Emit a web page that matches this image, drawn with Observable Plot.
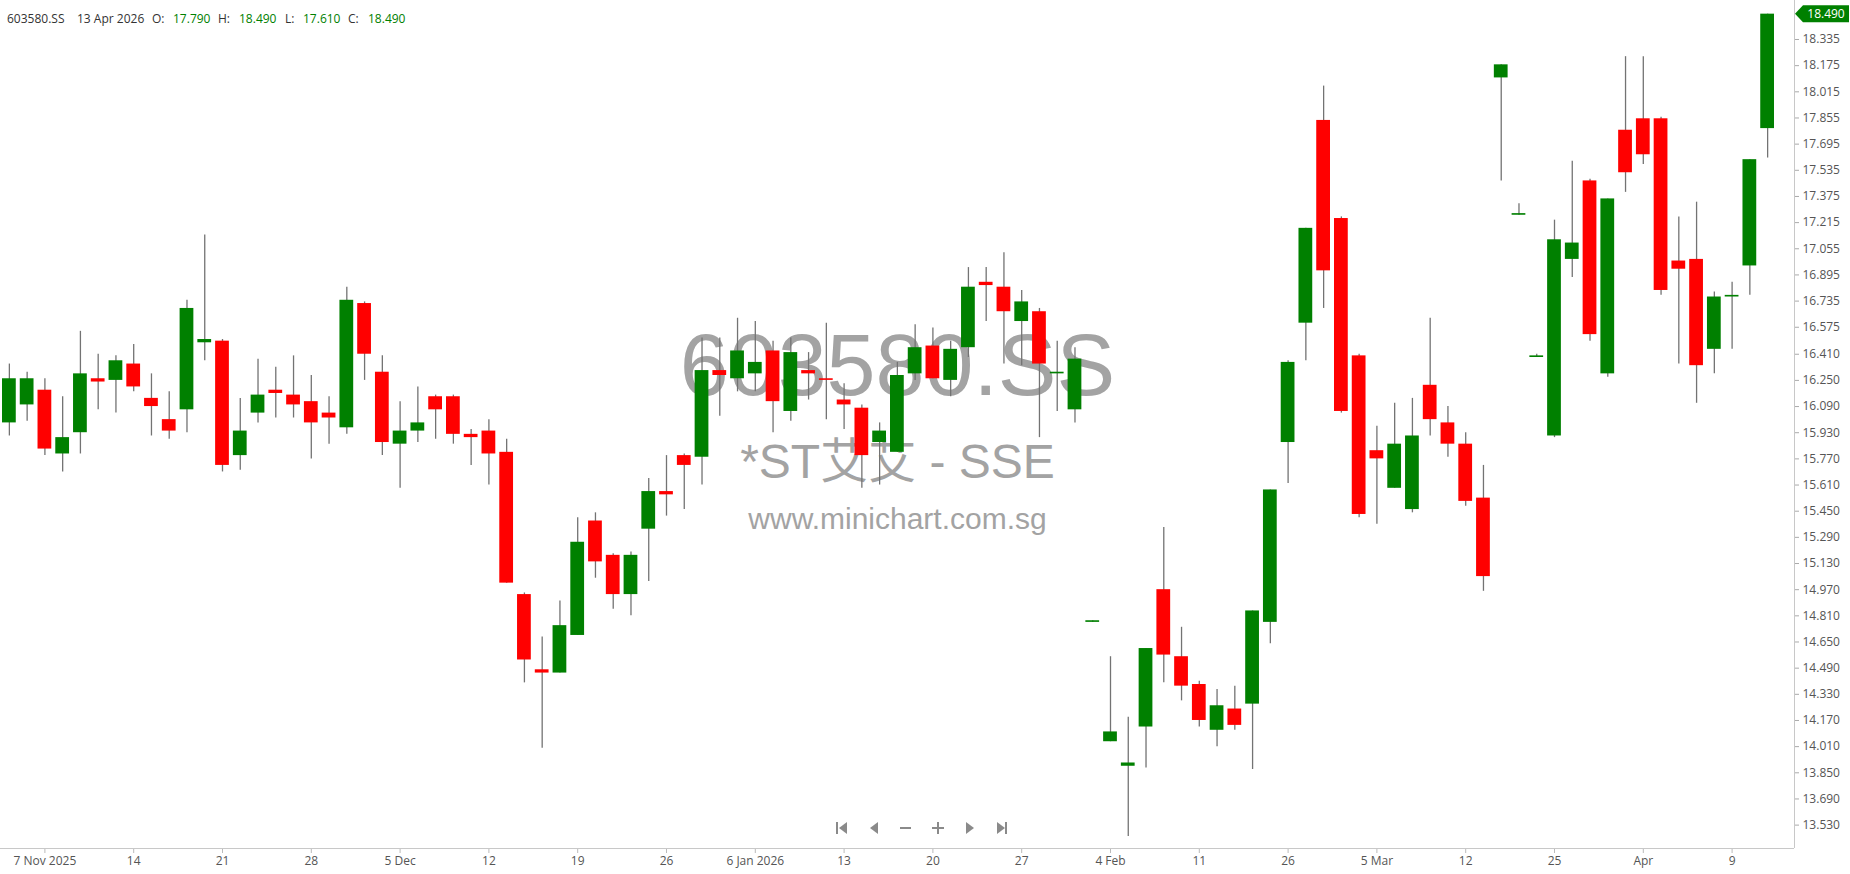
<!DOCTYPE html>
<html><head><meta charset="utf-8">
<script src="https://cdn.jsdelivr.net/npm/d3@7"></script>
<script src="https://cdn.jsdelivr.net/npm/@observablehq/plot@0.6"></script>
<style>
body{margin:0;background:#fff;}
#wrap{position:relative;width:1850px;height:874px;overflow:hidden;background:#fff;}
#hdr span{position:absolute;top:10px;white-space:nowrap;font:12px "Open Sans",sans-serif;color:#333;}
#hdr span.v{color:#008000;}
#nav{position:absolute;left:0;top:0;}
</style></head><body>
<div id="wrap"><div id="chart"></div><div id="hdr"></div>
<svg id="nav" width="1850" height="874"></svg></div>
<script>
const symbol = "603580.SS";
const stockName = "*ST艾艾 - SSE";
const site = "www.minichart.com.sg";
const lastDate = "13 Apr 2026";

const opens  = [15.99,16.10,16.19,15.80,15.93,16.26,16.25,16.35,16.14,16.01,16.07,16.48,16.49,15.79,16.05,16.19,16.16,16.12,16.05,15.96,
                16.72,16.30,15.86,15.94,16.15,16.15,15.92,15.94,15.81,14.94,14.48,14.46,14.69,15.39,15.18,14.94,15.34,15.57,15.79,15.78,
                16.31,16.26,16.29,16.43,16.06,16.31,16.26,16.13,16.08,15.87,15.81,16.29,16.46,16.25,16.45,16.85,16.82,16.61,16.67,16.29,
                16.07,14.77,14.04,13.89,14.13,14.97,14.56,14.39,14.11,14.24,14.27,14.77,15.87,16.60,17.84,17.24,16.40,15.82,15.59,15.46,
                16.22,15.99,15.86,15.53,18.10,17.26,16.39,15.91,16.99,17.47,16.29,17.78,17.85,17.85,16.98,16.99,16.44,16.76,16.95,17.79];
const highs  = [16.35,16.30,16.26,16.15,16.55,16.41,16.40,16.47,16.29,16.18,16.74,17.14,16.50,16.14,16.38,16.33,16.40,16.28,16.15,16.82,
                16.73,16.40,16.12,16.21,16.16,16.16,15.95,16.01,15.89,14.95,14.68,14.90,15.41,15.44,15.19,15.20,15.65,15.79,15.80,16.51,
                16.51,16.63,16.61,16.49,16.51,16.42,16.60,16.23,16.10,15.99,16.36,16.59,16.57,16.49,16.94,16.94,17.03,16.80,16.69,16.49,
                16.45,14.78,14.56,14.19,14.61,15.35,14.74,14.41,14.36,14.38,14.84,15.58,16.37,17.18,18.05,17.25,16.41,15.97,16.11,16.14,
                16.63,16.09,15.93,15.73,18.18,17.33,16.41,17.23,17.59,17.48,17.36,18.23,18.23,17.86,17.25,17.34,16.79,16.85,17.60,18.49];
const lows   = [15.91,16.00,15.79,15.69,15.80,16.07,16.05,16.18,15.91,15.89,15.93,16.37,15.69,15.70,15.99,16.02,16.02,15.77,15.86,15.92,
                16.25,15.79,15.59,15.87,15.89,15.86,15.73,15.61,15.01,14.40,14.00,14.46,14.69,15.04,14.85,14.81,15.02,15.42,15.46,15.61,
                16.03,16.18,16.18,15.93,16.00,16.13,16.01,15.95,15.59,15.61,15.81,16.25,16.26,16.15,16.39,16.61,16.35,16.34,15.90,16.06,
                15.99,14.77,14.04,13.46,13.88,14.40,14.29,14.13,14.01,14.11,13.87,14.64,15.62,16.37,16.69,16.05,15.41,15.37,15.59,15.44,
                15.91,15.78,15.48,14.96,17.47,17.26,16.39,15.90,16.88,16.49,16.27,17.40,17.57,16.77,16.35,16.11,16.29,16.44,16.77,17.61];
const closes = [16.26,16.26,15.83,15.90,16.29,16.24,16.37,16.21,16.09,15.94,16.69,16.50,15.73,15.94,16.16,16.17,16.10,15.99,16.02,16.74,
                16.41,15.87,15.94,15.99,16.07,15.92,15.90,15.80,15.01,14.54,14.46,14.75,15.26,15.14,14.94,15.18,15.57,15.55,15.73,16.31,
                16.28,16.43,16.36,16.12,16.42,16.29,16.25,16.10,15.79,15.94,16.28,16.45,16.26,16.44,16.82,16.83,16.67,16.73,16.35,16.30,
                16.38,14.78,14.10,13.91,14.61,14.57,14.38,14.17,14.26,14.14,14.84,15.58,16.36,17.18,16.92,16.06,15.43,15.77,15.86,15.91,
                16.01,15.86,15.51,15.05,18.18,17.27,16.40,17.11,17.09,16.53,17.36,17.52,17.63,16.80,16.93,16.34,16.76,16.77,17.60,18.49];

const tickIndex  = [2,7,12,17,22,27,32,37,42,47,52,57,62,67,72,77,82,87,92,97];
const tickLabels = ["7 Nov 2025","14","21","28","5 Dec","12","19","26","6 Jan 2026","13","20","27","4 Feb","11","26","5 Mar","12","25","Apr","9"];
const priceTicks = [13.530,13.690,13.850,14.010,14.170,14.330,14.490,14.650,14.810,14.970,15.130,15.290,15.450,15.610,15.770,15.930,
                    16.090,16.250,16.410,16.575,16.735,16.895,17.055,17.215,17.375,17.535,17.695,17.855,18.015,18.175,18.335];

const candles = opens.map((o, i) => ({i, o, h: highs[i], l: lows[i], c: closes[i]}));
const up = candles.filter(d => d.c >= d.o);
const down = candles.filter(d => d.c < d.o);
const last = candles[candles.length - 1];

const frameMarks = (index, scales, values, dims) => {
  const ns = "http://www.w3.org/2000/svg";
  const g = document.createElementNS(ns, "g");
  const xr = dims.width - dims.marginRight;
  const yb = dims.height - dims.marginBottom;
  const yc = scales.y(last.c);
  g.innerHTML =
    `<line x1="0" x2="${xr}" y1="${yb + 0.5}" y2="${yb + 0.5}" stroke="#c8c8c8"/>` +
    `<line x1="${xr + 0.5}" x2="${xr + 0.5}" y1="0" y2="${yb}" stroke="#c8c8c8"/>` +
    `<path d="M${xr + 1},${yc} L${xr + 9},${yc - 8.5} L${dims.width - 1},${yc - 8.5} L${dims.width - 1},${yc + 8.5} L${xr + 9},${yc + 8.5} Z" fill="#008000"/>` +
    `<text x="${(xr + 9 + dims.width - 1) / 2}" y="${yc}" dy="0.35em" text-anchor="middle" fill="#fff" font-size="12" font-family="Open Sans, sans-serif">${last.c.toFixed(3)}</text>`;
  return g;
};

const chart = Plot.plot({
  width: 1850, height: 874,
  marginTop: 0, marginBottom: 26, marginLeft: 0, marginRight: 56,
  style: {fontFamily: "'Open Sans', sans-serif", fontSize: "12px", background: "#fff", color: "#555", overflow: "visible"},
  x: {type: "band", domain: d3.range(candles.length), range: [0, 1776], padding: 0, axis: null},
  y: {domain: [13.387, 18.5735], axis: null},
  marks: [
    Plot.text([symbol], {text: d => d, frameAnchor: "middle", dy: -58, fontSize: 88, fill: "#a3a3a3", fontFamily: "'Liberation Sans', Arial, sans-serif"}),
    Plot.text([stockName], {text: d => d, frameAnchor: "middle", dy: 38, fontSize: 48, fill: "#a3a3a3", fontFamily: "'Liberation Sans', 'Noto Sans CJK SC', sans-serif"}),
    Plot.text([site], {text: d => d, frameAnchor: "middle", dy: 95, fontSize: 30, fill: "#a3a3a3", fontFamily: "'Liberation Sans', Arial, sans-serif"}),
    Plot.ruleX(candles, {x: "i", y1: "l", y2: "h", stroke: "#737373", strokeWidth: 1.3}),
    Plot.barY(up, {x: "i", y1: "o", y2: "c", fill: "#008000", insetLeft: 2, insetRight: 2}),
    Plot.barY(down, {x: "i", y1: "o", y2: "c", fill: "#ff0000", insetLeft: 2, insetRight: 2}),
    Plot.axisX({ticks: tickIndex, tickFormat: i => tickLabels[tickIndex.indexOf(i)], tickSize: 5, tickPadding: 3, stroke: "#bbb", fill: "#555", fontSize: 12, label: null}),
    Plot.axisY({anchor: "right", ticks: priceTicks, tickFormat: d => d.toFixed(3), tickSize: 4, tickPadding: 4, stroke: "#aaa", fill: "#555", fontSize: 12, label: null}),
    frameMarks
  ]
});
document.getElementById("chart").appendChild(chart);

// header
const hdr = document.getElementById("hdr");
const o = opens[opens.length - 1], h = highs[highs.length - 1], l = lows[lows.length - 1], c = closes[closes.length - 1];
const parts = [[symbol, 7, ""], [lastDate, 77, ""], ["O:", 152, ""], [o.toFixed(3), 173, "v"], ["H:", 218, ""], [h.toFixed(3), 239, "v"],
               ["L:", 285, ""], [l.toFixed(3), 303, "v"], ["C:", 348, ""], [c.toFixed(3), 368, "v"]];
for (const [t, x, cls] of parts) {
  const s = document.createElement("span");
  s.textContent = t; s.style.left = x + "px"; if (cls) s.className = cls;
  hdr.appendChild(s);
}

// navigation buttons
const nav = document.getElementById("nav");
nav.innerHTML = `<g fill="#8a8a8a">
<rect x="836" y="822" width="2" height="12"/><polygon points="847,822 847,834 839,828"/>
<polygon points="878,822 878,834 870,828"/>
<rect x="900" y="827" width="11" height="2"/>
<rect x="932" y="827" width="12" height="2"/><rect x="937" y="822" width="2" height="12"/>
<polygon points="966,822 966,834 974,828"/>
<polygon points="997,822 997,834 1005,828"/><rect x="1005" y="822" width="2" height="12"/>
</g>`;
</script>
</body></html>
